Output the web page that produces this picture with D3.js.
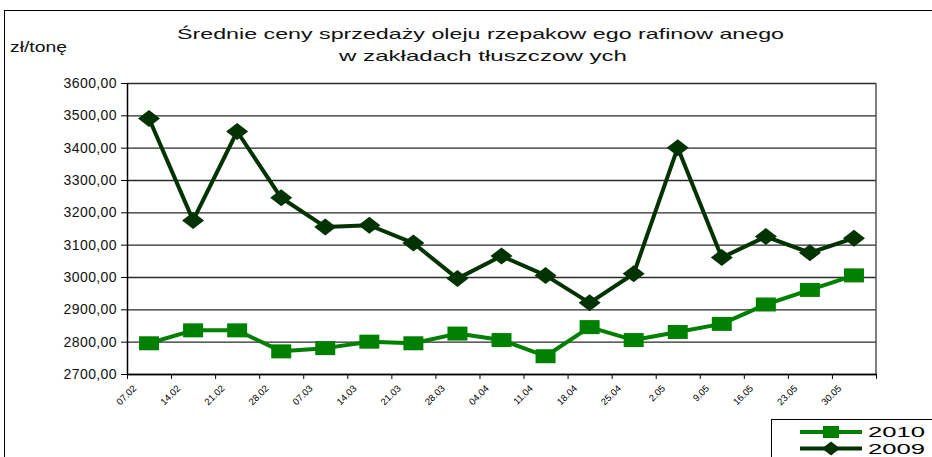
<!DOCTYPE html>
<html>
<head>
<meta charset="utf-8">
<script src="https://cdn.jsdelivr.net/npm/d3@7"></script>
<style>
  body { margin: 0; background: #fff; }
  svg { display: block; font-family: "Liberation Sans", Arial, sans-serif; }
</style>
</head>
<body>
<div id="container"></div>
<script>
// dates of the weekly readings
const dates = ["07.02","14.02","21.02","28.02","07.03","14.03","21.03","28.03","04.04",
               "11.04","18.04","25.04","2.05","9.05","16.05","23.05","30.05"];
// prices zl/tone
const prices2010 = [2795,2835,2835,2770,2780,2800,2795,2825,2805,2755,2845,2805,2830,2855,2915,2960,3005];
const prices2009 = [3490,3175,3450,3245,3155,3160,3105,2995,3065,3005,2920,3010,3400,3060,3125,3075,3120];
const yTicks = [2700,2800,2900,3000,3100,3200,3300,3400,3500,3600];
const seriesNames = ["2010","2009"];
const colors = ["#008000","#003300"];

const w = 932;
const h = 457;
const plotL = 127, plotR = 876, plotT = 83, plotB = 374;

const svg = d3.select("#container").append("svg")
  .attr("width", w)
  .attr("height", h);

// outer frame of the chart
svg.append("rect")
  .attr("x", 4.5).attr("y", 10.5)
  .attr("width", 960).attr("height", 500)
  .attr("fill", "none").attr("stroke", "#000").attr("stroke-width", 1);

const x = d3.scaleBand().domain(dates).range([plotL, plotR]).padding(0);
const y = d3.scaleLinear().domain([2700, 3600]).range([plotB, plotT]);

// gridlines
svg.append("g")
  .attr("transform", `translate(${plotL},0)`)
  .call(d3.axisLeft(y).tickValues(yTicks).tickSize(-(plotR - plotL)).tickFormat(""))
  .call(g => g.select(".domain").remove())
  .call(g => g.selectAll("line").attr("stroke", "#2a2a2a").attr("stroke-width", 1.3));

// right side of plot area
svg.append("line")
  .attr("x1", plotR).attr("x2", plotR).attr("y1", plotT).attr("y2", plotB)
  .attr("stroke", "#555").attr("stroke-width", 1.5);

// y axis
const yAxis = svg.append("g")
  .attr("transform", `translate(${plotL},0)`)
  .call(d3.axisLeft(y).tickValues(yTicks).tickSize(6).tickSizeOuter(0)
        .tickFormat(d => d.toFixed(2).replace(".", ",")));
yAxis.select(".domain").attr("stroke", "#000").attr("stroke-width", 1.5);
yAxis.selectAll("line").attr("stroke", "#000");
yAxis.selectAll("text")
  .attr("x", -10)
  .style("font-size", "14px")
  .style("letter-spacing", "0.4px")
  .attr("fill", "#111");

// x axis, ticks between categories
const xb = d3.scaleLinear().domain([0, dates.length]).range([plotL, plotR]);
svg.append("g")
  .attr("transform", `translate(0,${plotB})`)
  .call(d3.axisBottom(xb).tickValues(d3.range(dates.length + 1)).tickSize(5).tickSizeOuter(0).tickFormat(""))
  .call(g => g.select(".domain").attr("stroke", "#000").attr("stroke-width", 1.5))
  .call(g => g.selectAll("line").attr("stroke", "#000"));

const xAxis = svg.append("g")
  .attr("transform", `translate(0,${plotB})`)
  .call(d3.axisBottom(x).tickSize(0));
xAxis.select(".domain").remove();
xAxis.selectAll("text")
  .attr("transform", d => `translate(-12,15) rotate(-45)`)
  .attr("dy", 0).attr("y", 0)
  .style("text-anchor", "end")
  .style("font-size", "9.5px")
  .attr("fill", "#000");

// lines + markers
const line = d3.line().x((d, i) => x(dates[i]) + x.bandwidth() / 2).y(d => y(d));
const allSeries = [prices2010, prices2009];

// draw 2009 first, 2010 on top
[1, 0].forEach(k => {
  const data = allSeries[k];
  svg.append("path")
    .datum(data)
    .attr("d", line)
    .attr("fill", "none")
    .attr("stroke", colors[k])
    .attr("stroke-width", 4)
    .attr("stroke-linejoin", "round");

  svg.append("g").selectAll("path.m")
    .data(data).enter().append("path")
    .attr("class", "m")
    .attr("transform", (d, i) => `translate(${x(dates[i]) + x.bandwidth() / 2},${y(d)})`)
    .attr("d", k === 0 ? "M-10,-7H10V7H-10Z" : "M0,-8.5L11,0L0,8.5L-11,0Z")
    .attr("fill", colors[k]);
});

// title (the original is stretched wide)
svg.append("text")
  .attr("x", 177).attr("y", 38.5)
  .attr("textLength", 607).attr("lengthAdjust", "spacingAndGlyphs")
  .style("font-size", "15px")
  .attr("fill", "#111")
  .text("Średnie ceny sprzedaży oleju rzepakow ego rafinow anego");
svg.append("text")
  .attr("x", 339).attr("y", 60.5)
  .attr("textLength", 288).attr("lengthAdjust", "spacingAndGlyphs")
  .style("font-size", "15px")
  .attr("fill", "#111")
  .text("w  zakładach tłuszczow ych");

svg.append("text")
  .attr("x", 10).attr("y", 52)
  .attr("textLength", 57).attr("lengthAdjust", "spacingAndGlyphs")
  .style("font-size", "14px")
  .attr("fill", "#111")
  .text("zł/tonę");

// legend
const legend = svg.append("g");
legend.append("rect")
  .attr("x", 771.5).attr("y", 419.5)
  .attr("width", 200).attr("height", 60)
  .attr("fill", "#fff").attr("stroke", "#000");
seriesNames.forEach((name, k) => {
  const ly = 432 + k * 16.5;
  legend.append("line")
    .attr("x1", 800).attr("x2", 862).attr("y1", ly).attr("y2", ly)
    .attr("stroke", colors[k]).attr("stroke-width", 4);
  legend.append("path")
    .attr("transform", `translate(831,${ly})`)
    .attr("d", k === 0 ? "M-8,-6H8V6H-8Z" : "M0,-7L9,0L0,7L-9,0Z")
    .attr("fill", colors[k]);
  legend.append("text")
    .attr("x", 868).attr("y", ly + 5)
    .attr("textLength", 57).attr("lengthAdjust", "spacingAndGlyphs")
    .style("font-size", "14.5px")
    .attr("fill", "#000")
    .text(name);
});
</script>
</body>
</html>
